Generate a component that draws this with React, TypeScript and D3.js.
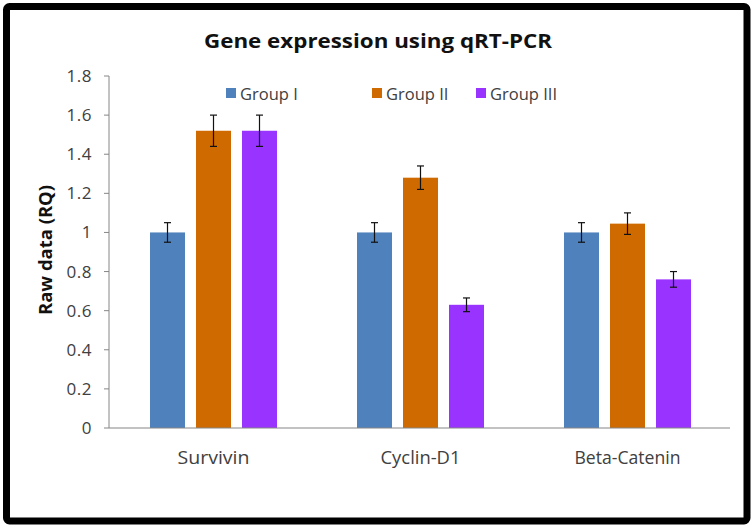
import React from "react";
import * as d3 from "d3";

const categories = ["Survivin", "Cyclin-D1", "Beta-Catenin"];
const groups = ["Group I", "Group II", "Group III"];
const groupColors = ["#4F81BD", "#CF6A00", "#9933FF"];
const group1 = [1.0, 1.0, 1.0];
const group2 = [1.52, 1.28, 1.045];
const group3 = [1.52, 0.63, 0.76];
const err1 = [0.05, 0.05, 0.05];
const err2 = [0.08, 0.06, 0.055];
const err3 = [0.08, 0.035, 0.04];
const yTicks = [0, 0.2, 0.4, 0.6, 0.8, 1, 1.2, 1.4, 1.6, 1.8];

const W = 756;
const H = 531;
const FONT = "'Open Sans', Lato, sans-serif";

export default function App() {
  const values = [group1, group2, group3];
  const errs = [err1, err2, err3];
  const x0 = d3.scaleBand().domain(categories).range([109, 730]).paddingInner(0).paddingOuter(0);
  const y = d3.scaleLinear().domain([0, 1.8]).range([428, 76]);
  const barW = 35;
  const step = 46;
  const legendX = [226, 372, 476];
  const labelLen = [72, 80, 106];

  return (
    <svg width={W} height={H} style={{ position: "absolute", left: 0, top: 0 }}>
      <rect x={0} y={0} width={W} height={H} fill="#fff" />
      <rect x={6.5} y={6.5} width={740.5} height={514.5} fill="#fff" stroke="#000" strokeWidth={7} rx={3} />
      <text x={378} y={48} textAnchor="middle" fontFamily={FONT} fontWeight="bold" fontSize={20} fill="#111"
        textLength={348} lengthAdjust="spacingAndGlyphs">
        Gene expression using qRT-PCR
      </text>
      {groups.map((g, i) => (
        <g key={g}>
          <rect x={legendX[i]} y={88} width={10} height={10} fill={groupColors[i]} />
          <text x={legendX[i] + 14} y={99.5} fontFamily={FONT} fontSize={16.5} fill="#404040">
            {g}
          </text>
        </g>
      ))}
      {/* y axis */}
      <line x1={109} x2={109} y1={y(1.8)} y2={y(0)} stroke="#868686" strokeWidth={1} />
      {yTicks.map((t) => (
        <g key={t}>
          <line x1={104} x2={109} y1={y(t)} y2={y(t)} stroke="#868686" strokeWidth={1} />
          <text x={92} y={y(t) + 6} textAnchor="end" fontFamily={FONT} fontSize={17} letterSpacing={0.5} fill="#404040">
            {d3.format("~g")(t)}
          </text>
        </g>
      ))}
      <text
        transform={`translate(52, 250) rotate(-90)`}
        textAnchor="middle"
        fontFamily={FONT}
        fontWeight="bold"
        fontSize={17}
        fill="#111"
        textLength={130}
        lengthAdjust="spacingAndGlyphs"
      >
        Raw data (RQ)
      </text>
      {/* bars */}
      {categories.map((c, ci) => {
        const cx = (x0(c) as number) + x0.bandwidth() / 2 + 1;
        return (
          <g key={c}>
            {values.map((vals, gi) => {
              const bx = cx + (gi - 1) * step - barW / 2;
              const v = vals[ci];
              const e = errs[gi][ci];
              const mx = bx + barW / 2;
              return (
                <g key={gi}>
                  <rect x={bx} y={y(v)} width={barW} height={y(0) - y(v)} fill={groupColors[gi]} />
                  <line x1={mx} x2={mx} y1={y(v + e)} y2={y(v - e)} stroke="#111" strokeWidth={1.2} />
                  <line x1={mx - 3.5} x2={mx + 3.5} y1={y(v + e)} y2={y(v + e)} stroke="#111" strokeWidth={1.2} />
                  <line x1={mx - 3.5} x2={mx + 3.5} y1={y(v - e)} y2={y(v - e)} stroke="#111" strokeWidth={1.2} />
                </g>
              );
            })}
            <text x={cx} y={464} textAnchor="middle" fontFamily={FONT} fontSize={18} fill="#404040"
              textLength={labelLen[ci]} lengthAdjust="spacingAndGlyphs">
              {c}
            </text>
          </g>
        );
      })}
      <line x1={109} x2={730} y1={y(0)} y2={y(0)} stroke="#868686" strokeWidth={1.2} />
    </svg>
  );
}
